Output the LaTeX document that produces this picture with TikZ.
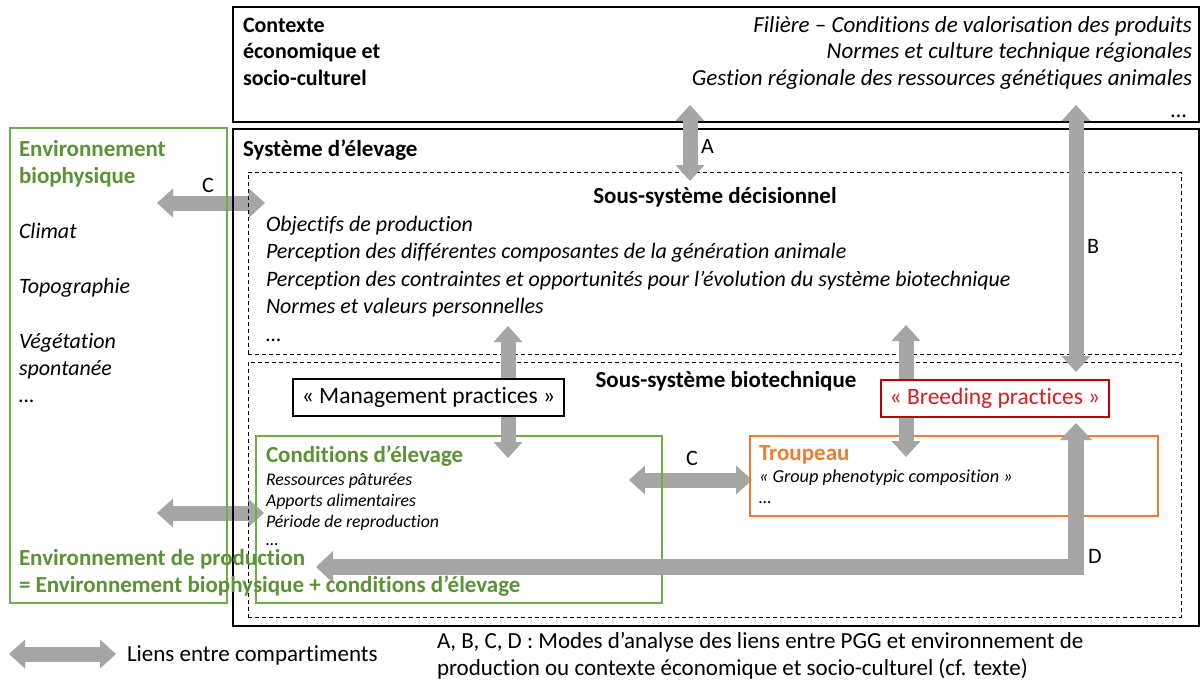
\documentclass[tikz,border=0pt]{standalone}
\usepackage{fontspec}
\setmainfont{Carlito}[Ligatures={NoCommon}]
\usetikzlibrary{arrows.meta}
\definecolor{agray}{HTML}{A6A6A6}
\definecolor{gtext}{HTML}{5A9236}
\definecolor{gbox}{HTML}{70AD47}
\definecolor{obox}{HTML}{ED7D31}
\definecolor{rbox}{HTML}{C00000}
\definecolor{rtext}{HTML}{D42020}
\newcommand{\myfs}[1]{\fontsize{#1}{#1}\selectfont}
\begin{document}
\begin{tikzpicture}[x=1pt,y=-1pt,
  every node/.style={inner sep=0pt, outer sep=0pt},
  frame/.style={draw=black, line width=1.3pt, anchor=north west},
  gframe/.style={draw=gbox, line width=1.1pt, anchor=north west},
  oframe/.style={draw=obox, line width=1.1pt, anchor=north west},
  dbox/.style={draw=black, line width=0.9pt, dash pattern=on 4pt off 3pt, anchor=north west},
  garrow/.style={draw=agray, line width=15pt,
    {Triangle[width=29pt,length=16pt,line width=0pt]}-{Triangle[width=29pt,length=16pt,line width=0pt]}},
  darrow/.style={draw=agray, line width=16pt, line join=miter,
    {Triangle[width=32pt,length=17pt,line width=0pt]}-{Triangle[width=32pt,length=17pt,line width=0pt]}},
  t/.style={anchor=base west, font=\myfs{23}},
  tb/.style={anchor=base west, font=\bfseries\myfs{23}},
  ti/.style={anchor=base west, font=\itshape\myfs{22}},
  tie/.style={anchor=base east, font=\itshape\myfs{23}},
  ts/.style={anchor=base west, font=\itshape\myfs{17.8}},
  lab/.style={anchor=base, font=\myfs{22}},
  pbox/.style={draw, line width=1.2pt, fill=white, font=\myfs{23.5}}
]
\useasboundingbox (0,0) rectangle (1201,681);

% horizontal C-type arrows (drawn under box borders)
\coordinate (c1L) at (157,203); \coordinate (c1R) at (265,203);
\coordinate (c2L) at (157,513); \coordinate (c2R) at (264,513);
\coordinate (c3L) at (629,480); \coordinate (c3R) at (752,480);
\draw[garrow] (c1L) -- (c1R);
\draw[garrow] (c2L) -- (c2R);
\draw[garrow] (c3L) -- (c3R);

% boxes
\node[frame, minimum width=966pt, minimum height=115pt] (ctx) at (233,7) {};
\node[frame, minimum width=966pt, minimum height=497pt] (sys) at (233,129) {};
\node[gframe, minimum width=217pt, minimum height=475pt] (env) at (10,128) {};
\node[dbox, minimum width=933pt, minimum height=182pt] (dec) at (248,172) {};
\node[dbox, minimum width=933pt, minimum height=255pt] (bio) at (248,362) {};
\node[gframe, minimum width=406pt, minimum height=167pt] (cond) at (256,436) {};
\node[oframe, minimum width=408pt, minimum height=80pt] (troup) at (750,436) {};

% vertical arrows
\coordinate (aT) at (690,105); \coordinate (aB) at (690,181);
\coordinate (bT) at (1076,105); \coordinate (bB) at (1076,372);
\coordinate (mT) at (508,326); \coordinate (mB) at (508,458);
\coordinate (rT) at (906,325); \coordinate (rB) at (906,457);
\coordinate (dL) at (316,567); \coordinate (dC) at (1076,567); \coordinate (dT) at (1076,423);
\draw[garrow] (aT) -- (aB);
\draw[garrow] (bT) -- (bB);
\draw[garrow] (mT) -- (mB);
\draw[garrow] (rT) -- (rB);
\draw[darrow] (dL) -- (dC) -- (dT);

% practice boxes
\node[pbox, minimum width=271pt, minimum height=37pt] (mgmt) at (428.5,397.5) {« Management practices »};
\node[pbox, draw=rbox, text=rtext, font=\myfs{23.5}, minimum width=228pt, minimum height=37pt] (breed) at (995,398.5) {« Breeding practices »};

% Contexte texts
\node[tb, font=\bfseries\myfs{22}] (ctx1) at (243,32) {Contexte};
\node[tb, font=\bfseries\myfs{22}] (ctx2) at (243,58) {économique et};
\node[tb, font=\bfseries\myfs{22}] (ctx3) at (243,85) {socio-culturel};
\node[tie] (f1) at (1192,32) {Filière – Conditions de valorisation des produits};
\node[tie] (f2) at (1192,58) {Normes et culture technique régionales};
\node[tie] (f3) at (1192,85) {Gestion régionale des ressources génétiques animales};
\node[tie] (f4) at (1187,117) {…};

% Systeme
\node[tb] (sysT) at (243,156) {Système d’élevage};

% Environnement biophysique
\node[tb, text=gtext] (env1) at (19,156) {Environnement};
\node[tb, text=gtext] (env2) at (19,183) {biophysique};
\node[ti] (env3) at (19,238) {Climat};
\node[ti] (env4) at (19,293) {Topographie};
\node[ti] (env5) at (19,348) {Végétation};
\node[ti] (env6) at (19,375) {spontanée};
\node[ti] (env7) at (19,402) {…};

% Decisionnel
\node[lab, font=\bfseries\myfs{23}] (decT) at (715,203) {Sous-système décisionnel};
\node[ti] (d1) at (266,231) {Objectifs de production};
\node[ti] (d2) at (266,258) {Perception des différentes composantes de la génération animale};
\node[ti] (d3) at (266,286) {Perception des contraintes et opportunités pour l’évolution du système biotechnique};
\node[ti] (d4) at (266,313) {Normes et valeurs personnelles};
\node[ti] (d5) at (266,341) {…};

% Biotechnique
\node[lab, font=\bfseries\myfs{23}] (bioT) at (726,387) {Sous-système biotechnique};
\node[tb, text=gtext] (condT) at (266,462) {Conditions d’élevage};
\node[ts] (cd1) at (266,485) {Ressources pâturées};
\node[ts] (cd2) at (266,506) {Apports alimentaires};
\node[ts] (cd3) at (266,527) {Période de reproduction};
\node[ts] (cd4) at (266,545) {…};
\node[tb, text=obox] (troT) at (759,460) {Troupeau};
\node[ts, font=\itshape\myfs{18.3}] (tr1) at (759,482) {« Group phenotypic composition »};
\node[ts] (tr2) at (759,503) {…};

% Environnement de production
\node[tb, text=gtext] (ep1) at (19,565) {Environnement de production};
\node[tb, text=gtext] (ep2) at (19,592) {= Environnement biophysique + conditions d’élevage};

% arrow labels
\node[t, font=\myfs{22}] (la) at (701,153) {A};
\node[t, font=\myfs{22}] (lb) at (1087,253) {B};
\node[lab] (lc1) at (208,192) {C};
\node[lab] (lc2) at (692,465) {C};
\node[t, font=\myfs{22}] (ld) at (1088,563) {D};

% legend
\coordinate (gL) at (9,654); \coordinate (gR) at (116,654);
\draw[garrow] (gL) -- (gR);
\node[t] (leg) at (127,661) {Liens entre compartiments};
\node[t] (note1) at (437,648) {A, B, C, D : Modes d’analyse des liens entre PGG et environnement de};
\node[t] (note2) at (437,675) {production ou contexte économique et socio-culturel (cf. texte)};
\end{tikzpicture}
\end{document}
